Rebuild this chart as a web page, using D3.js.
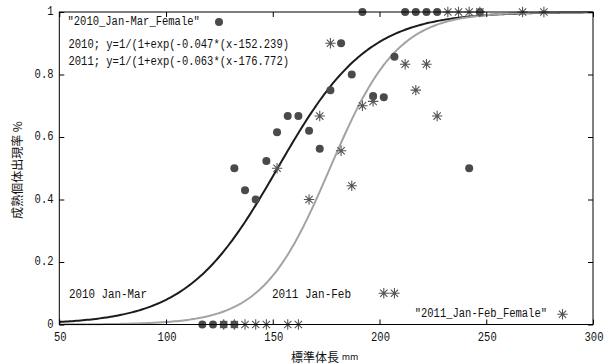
<!DOCTYPE html>
<html>
<head>
<meta charset="utf-8">
<script src="https://cdn.jsdelivr.net/npm/d3@7"></script>
<style>
  body { margin: 0; background: #fff; }
  svg { display: block; }
  .mono { font-family: "Liberation Mono", "DejaVu Sans Mono", monospace; font-size: 12px; fill: #111; }
  .jp { font-family: "Noto Sans CJK JP", sans-serif; font-size: 12px; fill: #111; }
</style>
</head>
<body>
<svg id="chart" width="605" height="364"></svg>
<script>
// 2010 Jan-Mar females: body length (mm) and share of mature individuals
const len2010 = [117, 122, 127, 132, 132, 137, 142, 147, 152, 157, 162, 167, 172, 177, 182, 187, 192, 197, 202, 207, 212, 217, 222, 227, 242, 247];
const rate2010 = [0, 0, 0, 0, 0.5, 0.43, 0.4, 0.523, 0.615, 0.667, 0.667, 0.62, 0.5625, 0.75, 0.9, 0.8, 1, 0.731, 0.727, 0.857, 1, 1, 1, 1, 0.5, 1];

// 2011 Jan-Feb females
const len2011 = [127, 132, 137, 142, 147, 157, 162, 152, 167, 172, 177, 182, 187, 192, 197, 202, 207, 212, 217, 222, 227, 232, 237, 242, 247, 267, 277];
const rate2011 = [0, 0, 0, 0, 0, 0, 0, 0.5, 0.4, 0.667, 0.9, 0.556, 0.444, 0.7, 0.714, 0.1, 0.1, 0.833, 0.75, 0.833, 0.667, 1, 1, 1, 1, 1, 1];

// Fitted logistic parameters
const fitSlope = [0.047, 0.063];
const fitMid = [152.239, 176.772];

const xTicks = [50, 100, 150, 200, 250, 300];
const yTicks = [0, 0.2, 0.4, 0.6, 0.8, 1];

const svg = d3.select("#chart");
const x = d3.scaleLinear().domain([50, 300]).range([59.3, 593]);
const y = d3.scaleLinear().domain([0, 1]).range([324.5, 12]);

const CW = 6.3; // glyph advance used for monospace labels
function monoText(str, px, py, anchor) {
  const w = str.length * CW;
  let sx = px;
  if (anchor === "end") sx = px - w;
  else if (anchor === "middle") sx = px - w / 2;
  return svg.append("text").attr("class", "mono")
    .attr("x", sx).attr("y", py)
    .attr("dominant-baseline", "central")
    .attr("textLength", w).attr("lengthAdjust", "spacingAndGlyphs")
    .text(str);
}

// Logistic curves
const logistic = (k, m) => v => 1 / (1 + Math.exp(-k * (v - m)));
const xs = d3.range(50, 300.01, 1);
const line = d3.line().x(d => x(d[0])).y(d => y(d[1]));
const curveColors = ["#1c1c1c", "#a3a3a3"];
[0, 1].forEach(i => {
  const f = logistic(fitSlope[i], fitMid[i]);
  svg.append("path")
    .datum(xs.map(v => [v, f(v)]))
    .attr("d", line)
    .attr("fill", "none")
    .attr("stroke", curveColors[i])
    .attr("stroke-width", 2);
});

// Asterisk marker
function star(g, cx, cy, r) {
  const d = r * Math.SQRT1_2;
  g.append("path")
    .attr("d", `M${cx - r},${cy}H${cx + r}M${cx},${cy - r}V${cy + r}` +
               `M${cx - d},${cy - d}L${cx + d},${cy + d}M${cx - d},${cy + d}L${cx + d},${cy - d}`)
    .attr("stroke", "#555").attr("stroke-width", 1.1).attr("fill", "none");
}

const pts2010 = len2010.map((v, i) => [v, rate2010[i]]);
const pts2011 = len2011.map((v, i) => [v, rate2011[i]]);

svg.append("g").selectAll("circle").data(pts2010).join("circle")
  .attr("cx", d => x(d[0])).attr("cy", d => y(d[1])).attr("r", 4)
  .attr("fill", "#4a4a4a");

const starG = svg.append("g");
pts2011.forEach(d => star(starG, x(d[0]), y(d[1]), 5.2));

// Frame and inward ticks on all four sides
const frame = svg.append("g").attr("stroke", "#000").attr("stroke-width", 1).attr("fill", "none");
frame.append("rect")
  .attr("x", x(50)).attr("y", y(1))
  .attr("width", x(300) - x(50)).attr("height", y(0) - y(1));

const bottomAxis = d3.axisBottom(x).tickValues(xTicks).tickSize(-5).tickFormat("");
const topAxis = d3.axisTop(x).tickValues(xTicks).tickSize(-5).tickFormat("");
const leftAxis = d3.axisLeft(y).tickValues(yTicks).tickSize(-5).tickFormat("");
const rightAxis = d3.axisRight(y).tickValues(yTicks).tickSize(-5).tickFormat("");
[[bottomAxis, `translate(0,${y(0)})`], [topAxis, `translate(0,${y(1)})`],
 [leftAxis, `translate(${x(50)},0)`], [rightAxis, `translate(${x(300)},0)`]].forEach(([ax, t]) => {
  const g = svg.append("g").attr("transform", t).call(ax);
  g.select(".domain").remove();
  g.selectAll("line").attr("stroke", "#000");
});

// Tick labels
xTicks.forEach(v => monoText(String(v), x(v) + 1, 337.5, "middle"));
yTicks.forEach(v => monoText(v === 0 || v === 1 ? String(v) : v.toFixed(1), 53.5, y(v), "end"));

// Axis titles
svg.append("text").attr("class", "jp")
  .attr("transform", `translate(16,${170}) rotate(-90)`)
  .attr("text-anchor", "middle").attr("dominant-baseline", "central")
  .text("成熟個体出現率 %");

const xt = svg.append("text").attr("class", "jp")
  .attr("x", 291).attr("y", 356).attr("dominant-baseline", "central");
xt.append("tspan").text("標準体長 ");
xt.append("tspan").attr("font-size", "9px").text("mm");

// Legend and annotations
monoText("\"2010_Jan-Mar_Female\"", 67.5, 22, "start");
svg.append("circle").attr("cx", 219).attr("cy", 22).attr("r", 4).attr("fill", "#4a4a4a");
monoText(`2010; y=1/(1+exp(-${fitSlope[0]}*(x-${fitMid[0]})`, 68.5, 44.5, "start");
monoText(`2011; y=1/(1+exp(-${fitSlope[1]}*(x-${fitMid[1]})`, 68.5, 62, "start");

monoText("2010 Jan-Mar", 69, 294.5, "start").attr("textLength", 78);
monoText("2011 Jan-Feb", 272, 294.5, "start").attr("textLength", 79);

monoText("\"2011_Jan-Feb_Female\"", 547, 314.3, "end");
star(svg, 562.5, 314.3, 5.2);
</script>
</body>
</html>
